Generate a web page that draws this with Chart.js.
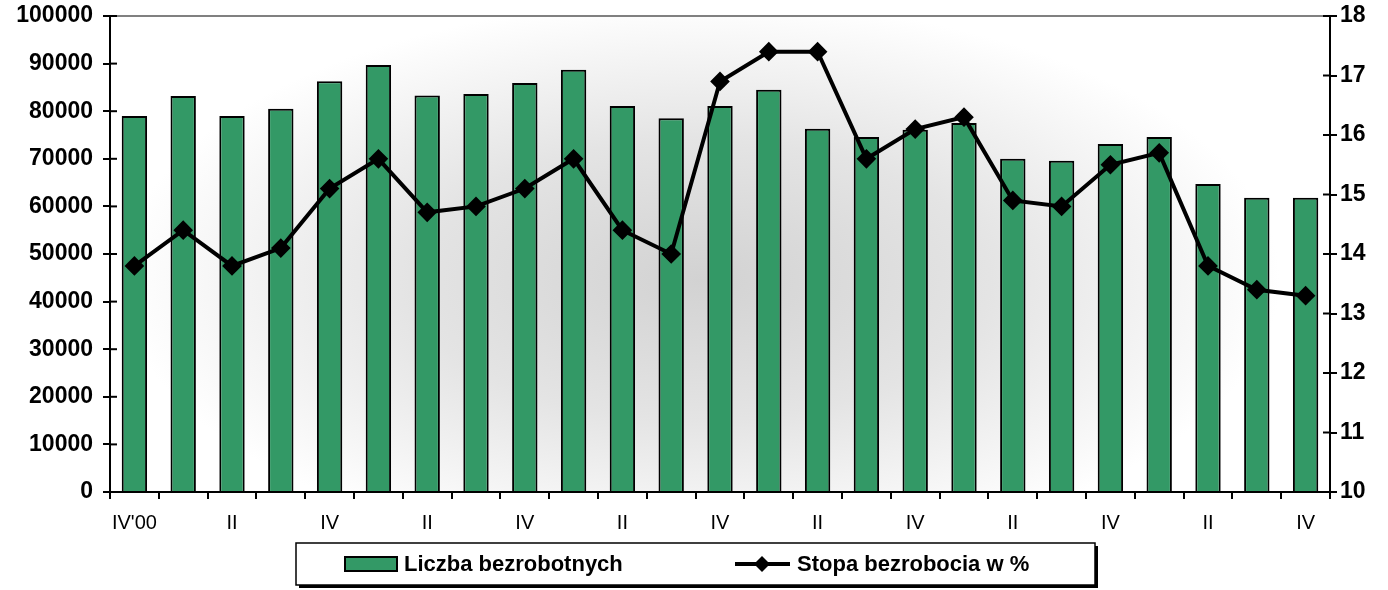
<!DOCTYPE html>
<html>
<head>
<meta charset="utf-8">
<script src="https://cdn.jsdelivr.net/npm/chart.js@4/dist/chart.umd.min.js"></script>
<style>
  html, body { margin: 0; padding: 0; background: #fff; }
  #wrap { width: 1388px; height: 590px; }
</style>
</head>
<body>
<div id="wrap"><canvas id="chart" width="1388" height="590"></canvas></div>
<script>
// kwartaly IV'00 - IV'06
var quarters = ["IV'00", 'I', 'II', 'III', 'IV', 'I', 'II', 'III', 'IV', 'I', 'II', 'III', 'IV',
                'I', 'II', 'III', 'IV', 'I', 'II', 'III', 'IV', 'I', 'II', 'III', 'IV'];
var bezrobotni = [79000, 83200, 79000, 80500, 86300, 89700, 83300, 83600, 85900, 88700, 81100, 78500,
                  81100, 84500, 76300, 74600, 76100, 77500, 70000, 69600, 73100, 74600, 64700, 61800, 61800];
var stopa = [13.8, 14.4, 13.8, 14.1, 15.1, 15.6, 14.7, 14.8, 15.1, 15.6, 14.4, 14.0,
             16.9, 17.4, 17.4, 15.6, 16.1, 16.3, 14.9, 14.8, 15.5, 15.7, 13.8, 13.4, 13.3];
var seriesNames = ['Liczba bezrobotnych', 'Stopa bezrobocia w %'];

var green = '#339966';
var font = 'Liberation Sans, Arial, sans-serif';

// tlo wykresu - szary gradient
var bgPlugin = {
    id: 'bg',
    beforeDraw: function (chart) {
        var ctx = chart.ctx, a = chart.chartArea;
        ctx.save();
        ctx.beginPath();
        ctx.rect(a.left, a.top, a.right - a.left, a.bottom - a.top);
        ctx.clip();
        var cx = 700, cy = 280, rx = 580, ry = 280;
        ctx.translate(cx, cy);
        ctx.scale(rx / ry, 1);
        var g = ctx.createRadialGradient(0, 0, 0, 0, 0, ry);
        g.addColorStop(0, '#d2d2d2');
        g.addColorStop(0.5, '#e4e4e4');
        g.addColorStop(1, '#ffffff');
        ctx.fillStyle = g;
        ctx.fillRect(-cx * ry / rx - 10, -cy - 10, 3000, 1000);
        ctx.restore();
    }
};

// gorna linia, wewnetrzne kreski osi Y, legenda
var framePlugin = {
    id: 'frame',
    afterDraw: function (chart) {
        var ctx = chart.ctx, a = chart.chartArea;
        ctx.save();
        ctx.strokeStyle = '#808080';
        ctx.lineWidth = 2;
        ctx.beginPath();
        ctx.moveTo(a.left, a.top);
        ctx.lineTo(a.right, a.top);
        ctx.stroke();

        ctx.strokeStyle = '#000';
        ctx.lineWidth = 2;
        ['y', 'y1'].forEach(function (id) {
            var s = chart.scales[id];
            s.ticks.forEach(function (t, i) {
                var py = s.getPixelForTick(i);
                ctx.beginPath();
                if (id === 'y') { ctx.moveTo(a.left, py); ctx.lineTo(a.left + 7, py); }
                else { ctx.moveTo(a.right, py); ctx.lineTo(a.right - 7, py); }
                ctx.stroke();
            });
        });

        // legenda
        var lx = 296, ly = 543, lw = 799, lh = 42;
        ctx.fillStyle = '#000';
        ctx.fillRect(lx + 3, ly + lh, lw, 3);
        ctx.fillRect(lx + lw, ly + 3, 3, lh);
        ctx.fillStyle = '#fff';
        ctx.fillRect(lx, ly, lw, lh);
        ctx.lineWidth = 1.5;
        ctx.strokeRect(lx, ly, lw, lh);

        var my = ly + lh / 2;
        ctx.fillStyle = green;
        ctx.fillRect(345, my - 7, 52, 14);
        ctx.lineWidth = 2;
        ctx.strokeStyle = '#000';
        ctx.strokeRect(345, my - 7, 52, 14);

        ctx.lineWidth = 4;
        ctx.beginPath();
        ctx.moveTo(735, my);
        ctx.lineTo(790, my);
        ctx.stroke();
        ctx.fillStyle = '#000';
        ctx.beginPath();
        ctx.moveTo(762, my - 8);
        ctx.lineTo(770, my);
        ctx.lineTo(762, my + 8);
        ctx.lineTo(754, my);
        ctx.closePath();
        ctx.fill();

        ctx.font = 'bold 22px ' + font;
        ctx.textBaseline = 'middle';
        ctx.fillText(seriesNames[0], 404, my + 1);
        ctx.fillText(seriesNames[1], 797, my + 1);
        ctx.restore();
    }
};

function noVertPad(s) {
    s.paddingTop = 0;
    s.paddingBottom = 0;
}

new Chart(document.getElementById('chart'), {
    type: 'bar',
    data: {
        labels: quarters,
        datasets: [{
            type: 'line',
            label: seriesNames[1],
            data: stopa,
            yAxisID: 'y1',
            borderColor: '#000',
            backgroundColor: '#000',
            borderWidth: 4,
            pointStyle: 'rectRot',
            pointRadius: 7,
            pointBackgroundColor: '#000',
            pointBorderColor: '#000',
            tension: 0,
            order: 0
        }, {
            label: seriesNames[0],
            data: bezrobotni,
            yAxisID: 'y',
            backgroundColor: green,
            borderColor: '#000',
            borderWidth: 2,
            barPercentage: 0.52,
            categoryPercentage: 1,
            order: 1
        }]
    },
    plugins: [bgPlugin, framePlugin],
    options: {
        responsive: false,
        animation: false,
        layout: { padding: { top: 16, bottom: 58, left: 0, right: 0 } },
        plugins: {
            legend: { display: false },
            tooltip: { enabled: false }
        },
        scales: {
            x: {
                grid: { display: true, drawOnChartArea: false, tickLength: 7, color: '#000', lineWidth: 2 },
                border: { display: true, color: '#000', width: 2 },
                ticks: {
                    autoSkip: false,
                    maxRotation: 0,
                    padding: 12,
                    color: '#000',
                    font: { family: font, size: 20 },
                    callback: function (v, i) { return i % 2 === 0 ? quarters[i] : ''; }
                },
                afterFit: function (s) { s.height = 40; s.paddingLeft = 0; s.paddingRight = 0; }
            },
            y: {
                position: 'left',
                min: 0,
                max: 100000,
                grid: { drawOnChartArea: false, tickLength: 7, color: '#000', lineWidth: 2 },
                border: { display: true, color: '#000', width: 2 },
                ticks: {
                    stepSize: 10000,
                    padding: 10,
                    color: '#000',
                    font: { family: font, size: 23, weight: 'bold' },
                    callback: function (v) { return String(v); }
                },
                afterFit: function (s) { s.width = 110; noVertPad(s); }
            },
            y1: {
                position: 'right',
                min: 10,
                max: 18,
                grid: { drawOnChartArea: false, tickLength: 7, color: '#000', lineWidth: 2 },
                border: { display: true, color: '#000', width: 2 },
                ticks: {
                    stepSize: 1,
                    padding: 3,
                    color: '#000',
                    font: { family: font, size: 23, weight: 'bold' }
                },
                afterFit: function (s) { s.width = 58; noVertPad(s); }
            }
        }
    }
});
</script>
</body>
</html>
